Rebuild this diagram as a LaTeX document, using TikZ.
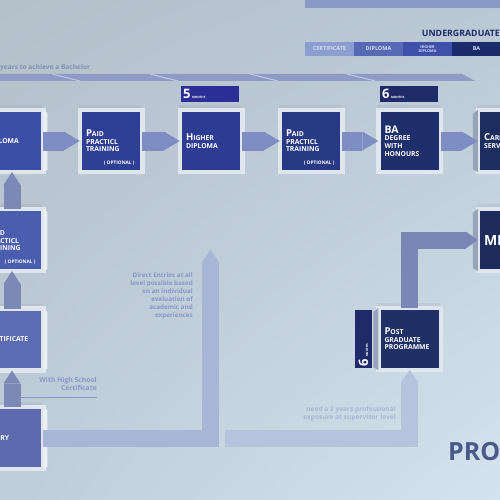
\documentclass[tikz,border=0pt]{standalone}
\usepackage{fontspec}
\setmainfont{Open Sans}
\usepackage{tikz}
\usetikzlibrary{arrows.meta, positioning, calc, shadows, shadings}
\definecolor{bgTL}{HTML}{B4C0CA}
\definecolor{bgTR}{HTML}{BAC8D4}
\definecolor{bgBL}{HTML}{BFCDDA}
\definecolor{bgBR}{HTML}{D5E3EF}
\definecolor{frameCol}{HTML}{DFE6ED}
\definecolor{sideLight}{HTML}{EAF0F5}
\definecolor{sideGrey}{HTML}{97A3B6}
\definecolor{dipBlue}{HTML}{3B4FA6}
\definecolor{paidBlue}{HTML}{2F3F93}
\definecolor{highBlue}{HTML}{2D3B92}
\definecolor{paidNavy}{HTML}{283A84}
\definecolor{baNavy}{HTML}{1F2F6B}
\definecolor{careerNavy}{HTML}{1D2D60}
\definecolor{pgNavy}{HTML}{203066}
\definecolor{mbaNavy}{HTML}{1D2C5C}
\definecolor{paidLeft}{HTML}{4B5DAE}
\definecolor{certBlue}{HTML}{5C6CB3}
\definecolor{entryBlue}{HTML}{5D6BAE}
\definecolor{monthFive}{HTML}{2B2E94}
\definecolor{monthSix}{HTML}{1F2A69}
\definecolor{lgCertCol}{HTML}{8C9ECF}
\definecolor{lgDipCol}{HTML}{5769B5}
\definecolor{lgHighCol}{HTML}{3E50A8}
\definecolor{lgBaCol}{HTML}{1B2A6B}
\definecolor{legendText}{HTML}{D4DCF2}
\definecolor{topBand}{HTML}{8A9AC7}
\definecolor{timeBand}{HTML}{8E9BC5}
\definecolor{rowArrow}{HTML}{7E8EC4}
\definecolor{colArrow}{HTML}{7C89B7}
\definecolor{pgArrow}{HTML}{7986B6}
\definecolor{lightL}{HTML}{A7B5D6}
\definecolor{lighterL}{HTML}{B6C3DC}
\definecolor{noteBlue}{HTML}{8797C7}
\definecolor{noteGrey}{HTML}{8592B2}
\definecolor{noteLight}{HTML}{A9B7D5}
\definecolor{undergrad}{HTML}{1D2A69}
\definecolor{proCol}{HTML}{4A5A8A}
\newcommand{\initcap}[2]{{\fontsize{9.5}{8}\selectfont #1}#2}

\begin{document}
\begin{tikzpicture}[x=1pt, y=-1pt,
    tile/.style={rectangle, fill=#1, draw=frameCol, line width=4.5pt, outer sep=0pt,
                 minimum width=62.5pt, minimum height=62pt, text width=50pt, inner sep=6.25pt,
                 align=left, text=white, font=\fontsize{6.8}{7.6}\selectfont\bfseries,
                 drop shadow={shadow xshift=-1pt, shadow yshift=5pt, opacity=.12}},
    opt/.style={anchor=base east, inner sep=0pt, text=white, font=\fontsize{4.8}{5}\selectfont\bfseries},
    monthtag/.style={rectangle, fill=#1, minimum width=58pt, minimum height=16pt, text width=54pt,
                 inner sep=2pt, align=left, text=white, font=\bfseries},
    legend/.style={rectangle, fill=#1, minimum width=49pt, minimum height=14pt, inner sep=0pt,
                 outer sep=0pt, text=legendText, font=\fontsize{5.5}{6}\selectfont\bfseries, align=center},
    note/.style={inner sep=0pt, align=right, text=#1, font=\fontsize{6.3}{8}\selectfont\bfseries},
    rowflow/.style={draw=rowArrow, line width=19pt, -{Triangle[length=16pt, width=19pt, line width=0pt]}},
    colflow/.style={draw=colArrow, line width=17pt, -{Triangle[length=13pt, width=17pt, line width=0pt]}},
    bigflow/.style={draw=#1, line width=17pt, -{Triangle[length=12pt, width=17pt, line width=0pt]}}
]
    \path[use as bounding box] (0,0) rectangle (500,500);
    \clip (0,0) rectangle (500,500);
    \shade[upper left=bgTL, upper right=bgTR, lower left=bgBL, lower right=bgBR] (0,0) rectangle (500,500);

    % legend
    \fill[topBand] (305,-1) rectangle (501,8);
    \node[anchor=base east, inner sep=0pt, text=undergrad, font=\fontsize{8.8}{9}\selectfont\bfseries] (ugTitle) at (500,37) {UNDERGRADUATE};
    \node[legend=lgCertCol] (lgCert) at (329.5,49) {CERTIFICATE};
    \node[legend=lgDipCol, right=0pt of lgCert] (lgDip) {DIPLOMA};
    \node[legend=lgHighCol, right=0pt of lgDip, font=\fontsize{3.8}{4.2}\selectfont\bfseries] (lgHigh) {HIGHER\\DIPLOMA};
    \node[legend=lgBaCol, right=0pt of lgHigh] (lgBa) {BA};

    % time line
    \node[anchor=base west, inner sep=0pt, text=noteGrey, font=\fontsize{6.6}{7}\selectfont\bfseries] (yearsNote) at (0,69.5) {years to achieve a Bachelor};
    \fill[timeBand] (-1,74) -- (462,74) -- (475,81) -- (-1,81) -- cycle;
    \foreach \x in {52,150,250,347}
        \draw[white!45!timeBand, line width=1pt] (\x,74) -- (\x+28,81);

    % entry paths
    \coordinate (tipA) at (210.5,250);
    \coordinate (pathB) at (225,438.5);

    % bachelor track
    \node[tile=dipBlue] (dip) at (12,141) {DIPLOMA};
    \node[tile=paidBlue] (paidA) at (111,141) {\initcap{P}{AID}\\PRACTICL\\TRAINING};
    \node[tile=highBlue] (high) at (211,141) {\initcap{H}{IGHER}\\DIPLOMA};
    \node[tile=paidNavy] (paidB) at (311,141) {\initcap{P}{AID}\\PRACTICL\\TRAINING};
    \node[tile=baNavy] (ba) at (409.5,141) {{\fontsize{10.5}{9}\selectfont BA}\\DEGREE\\WITH\\HONOURS};
    \node[tile=careerNavy] (career) at (509,141) {\initcap{C}{AREER}\\SERVICES};
    \node[opt] (optA) at ($(paidA.south east)+(-7.5,-7.5)$) {( OPTIONAL )};
    \node[opt] (optB) at ($(paidB.south east)+(-7.5,-7.5)$) {( OPTIONAL )};

    % left column
    \node[tile=paidLeft] (paidL) at (12,240) {\initcap{P}{AID}\\PRACTICL\\TRAINING};
    \node[opt] (optL) at ($(paidL.south east)+(-7.5,-7.5)$) {( OPTIONAL )};
    \node[tile=certBlue] (cert) at (12,339.5) {CERTIFICATE};
    \node[tile=entryBlue] (entry) at (12,438) {ENTRY};

    % post graduate
    \node[tile=pgNavy] (post) at (409.5,339) {\initcap{P}{OST}\\GRADUATE\\PROGRAMME};
    \node[tile=mbaNavy] (mba) at (509,240) {{\fontsize{14}{14}\selectfont MBA}};

    \foreach \n in {dip, paidL, cert, entry}
        \fill[sideLight] (\n.north east) -- ++(4,3) -- ($(\n.south east)+(4,-2)$) -- (\n.south east) -- cycle;
    \foreach \n in {career, post, mba}
        \fill[sideGrey] (\n.north west) -- ++(-5,4) -- ($(\n.south west)+(-5,-3)$) -- (\n.south west) -- cycle;

    % months
    \node[monthtag=monthFive] (mFive) at (210,94) {{\fontsize{13}{13}\selectfont 5}\,{\fontsize{3}{3}\selectfont MONTHS}};
    \node[monthtag=monthSix] (mSix) at (409,94) {{\fontsize{13}{13}\selectfont 6}\,{\fontsize{3}{3}\selectfont MONTHS}};
    \node[monthtag=monthSix, rotate=90, minimum height=17pt] (mPost) at (363.5,339) {{\fontsize{13}{13}\selectfont 6}\,{\fontsize{3}{3}\selectfont MONTHS}};

    % connectors
    \draw[rowflow] (dip.east) -- (paidA.west);
    \draw[rowflow] (paidA.east) -- (high.west);
    \draw[rowflow] (high.east) -- (paidB.west);
    \draw[rowflow] (paidB.east) -- (ba.west);
    \draw[rowflow] (ba.east) -- (career.west);
    \draw[colflow] (entry.north) -- (cert.south);
    \draw[colflow] (cert.north) -- (paidL.south);
    \draw[colflow] (paidL.north) -- (dip.south);
    \draw[bigflow=lightL] (entry.east) -| (tipA);
    \draw[bigflow=lighterL] (pathB) -| (post.south);
    \draw[bigflow=pgArrow] (post.north) |- (mba.west);

    % notes
    \node[note=noteBlue, anchor=north east] (directNote) at (193,273) {Direct Entries at all\\level possible based\\on an individual\\evaluation of\\academic and\\experiences};
    \node[note=noteBlue, anchor=north east, font=\fontsize{6.8}{8.5}\selectfont\bfseries] (hsNote) at (97,377) {With High School\\Certificate};
    \coordinate (hsEnd) at (20,397.5);
    \draw[noteBlue, line width=1pt] (hsEnd) -- (hsEnd -| hsNote.east);
    \node[note=noteLight, anchor=north east, font=\fontsize{6.6}{8.5}\selectfont\bfseries] (pgNote) at (396,406) {need a 2 years professional\\exposure at supervisor level};
    \node[anchor=base west, inner sep=0pt, text=proCol, font=\fontsize{25}{25}\selectfont\bfseries] (proTitle) at (448,460) {PROGRESSION};
\end{tikzpicture}
\end{document}
